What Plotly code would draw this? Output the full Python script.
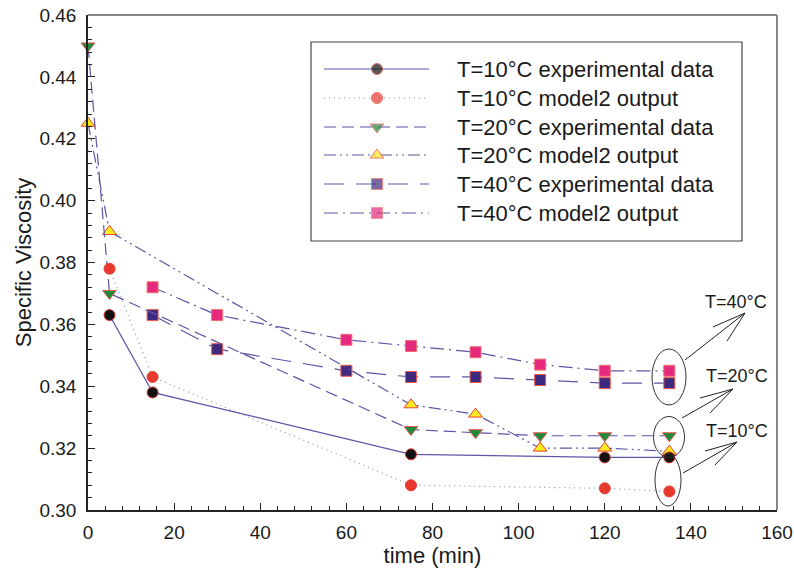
import plotly.graph_objects as go

# ---- data ----
t10_exp_x = [5, 15, 75, 120, 135]
t10_exp_y = [0.363, 0.338, 0.318, 0.317, 0.317]
t10_mod_x = [5, 15, 75, 120, 135]
t10_mod_y = [0.378, 0.343, 0.308, 0.307, 0.306]
t20_exp_x = [0, 5, 75, 90, 105, 120, 135]
t20_exp_y = [0.450, 0.370, 0.326, 0.325, 0.324, 0.324, 0.324]
t20_mod_x = [0, 5, 75, 90, 105, 120, 135]
t20_mod_y = [0.425, 0.390, 0.334, 0.331, 0.320, 0.320, 0.319]
t40_exp_x = [15, 30, 60, 75, 90, 105, 120, 135]
t40_exp_y = [0.363, 0.352, 0.345, 0.343, 0.343, 0.342, 0.341, 0.341]
t40_mod_x = [15, 30, 60, 75, 90, 105, 120, 135]
t40_mod_y = [0.372, 0.363, 0.355, 0.353, 0.351, 0.347, 0.345, 0.345]

legend_labels = ["T=10°C experimental data", "T=10°C model2 output",
                 "T=20°C experimental data", "T=20°C model2 output",
                 "T=40°C experimental data", "T=40°C model2 output"]
group_labels = ["T=40°C", "T=20°C", "T=10°C"]

FONT = "Liberation Sans, Arial, sans-serif"
LC = "#5f54a6"

styles = [
    dict(line=dict(color=LC, width=1.2, dash="solid"),
         marker=dict(symbol="circle", size=11, color="#111111", line=dict(color="#d8362c", width=1))),
    dict(line=dict(color="#7f9c9a", width=1.2, dash="1px,4px"),
         marker=dict(symbol="circle", size=11, color="#e8392f", line=dict(color="#e8392f", width=1))),
    dict(line=dict(color=LC, width=1.2, dash="12px,6px"),
         marker=dict(symbol="triangle-down", size=12, color="#1d8a3c", line=dict(color="#ec5a4e", width=1))),
    dict(line=dict(color=LC, width=1.2, dash="12px,4px,2px,4px,2px,4px"),
         marker=dict(symbol="triangle-up", size=12, color="#ffec1f", line=dict(color="#e8402f", width=1))),
    dict(line=dict(color=LC, width=1.2, dash="20px,12px"),
         marker=dict(symbol="square", size=11, color="#3d2a7e", line=dict(color="#ec5a4e", width=1))),
    dict(line=dict(color=LC, width=1.2, dash="14px,5px,2px,5px"),
         marker=dict(symbol="square", size=11, color="#e5297d", line=dict(color="#f07070", width=1))),
]

series = [(t10_exp_x, t10_exp_y), (t10_mod_x, t10_mod_y), (t20_exp_x, t20_exp_y),
          (t20_mod_x, t20_mod_y), (t40_exp_x, t40_exp_y), (t40_mod_x, t40_mod_y)]

fig = go.Figure()
draw_order = [5, 4, 3, 2, 1, 0]
for i in draw_order:
    xs, ys = series[i]
    fig.add_trace(go.Scatter(x=xs, y=ys, mode="lines+markers", name=legend_labels[i],
                             line=styles[i]["line"], marker=styles[i]["marker"],
                             showlegend=False, cliponaxis=False))

# ---- manual legend (pixel-like overlay axes) ----
row_y = [69, 98, 127, 155, 184, 213]
for i in range(6):
    m = dict(styles[i]["marker"])
    m["size"] = [0, m["size"], 0]
    fig.add_trace(go.Scatter(x=[324, 377, 429], y=[row_y[i]] * 3, mode="lines+markers",
                             line=styles[i]["line"], marker=m, xaxis="x2", yaxis="y2",
                             showlegend=False, hoverinfo="skip"))

shapes = []
annotations = []
# legend box
shapes.append(dict(type="rect", xref="x2", yref="y2", x0=311, x1=742, y0=42, y1=241,
                   line=dict(color="#444444", width=1.2), fillcolor="white", layer="below"))
for i in range(6):
    annotations.append(dict(xref="x2", yref="y2", x=455, y=row_y[i], text=legend_labels[i],
                            showarrow=False, xanchor="left", yanchor="middle",
                            font=dict(family=FONT, size=22, color="#1a1a1a")))

# ellipses around end points
for cx, cy, w, h in [(669, 377, 17, 28), (669, 437, 15.5, 20.5), (668, 480, 13, 26)]:
    shapes.append(dict(type="circle", xref="x2", yref="y2", x0=cx - w, x1=cx + w,
                       y0=cy - h, y1=cy + h, line=dict(color="#333333", width=1)))

# arrows (tail, tip, barb1, barb2)
arrows = [((685, 360), (745, 313), (713, 327), (727, 341)),
          ((682, 418), (733, 389), (700, 398), (710, 413)),
          ((683, 473), (737, 442), (705, 451), (715, 465))]
for tail, tip, b1, b2 in arrows:
    for a in (tail, b1, b2):
        shapes.append(dict(type="line", xref="x2", yref="y2", x0=a[0], y0=a[1],
                           x1=tip[0], y1=tip[1], line=dict(color="#222222", width=1)))

for (lx, ly), txt in zip([(736, 302), (737, 376), (737, 431)], group_labels):
    annotations.append(dict(xref="x2", yref="y2", x=lx, y=ly, text=txt, showarrow=False,
                            xanchor="center", yanchor="middle",
                            font=dict(family=FONT, size=18, color="#1a1a1a")))

# gray frame top/right
shapes.append(dict(type="line", xref="paper", yref="paper", x0=0, x1=1, y0=1, y1=1,
                   line=dict(color="#888888", width=2)))
shapes.append(dict(type="line", xref="paper", yref="paper", x0=1, x1=1, y0=0, y1=1,
                   line=dict(color="#888888", width=2)))

fig.update_layout(
    width=794, height=574, autosize=False,
    margin=dict(l=88, r=17, t=15, b=64, autoexpand=False),
    paper_bgcolor="white", plot_bgcolor="white",
    font=dict(family=FONT, color="#1a1a1a"),
    xaxis=dict(range=[0, 160], dtick=20, tick0=0, ticks="inside", ticklen=7, tickcolor="#222222",
               showline=True, linecolor="#222222", linewidth=1.5, showgrid=False, zeroline=False,
               tickfont=dict(size=19, family=FONT), ticklabelstandoff=4, automargin=False,
               minor=dict(dtick=4, ticks="inside", ticklen=4, tickcolor="#222222"),
               title=dict(text="time (min)", font=dict(size=22, family=FONT), standoff=2)),
    yaxis=dict(range=[0.30, 0.46], dtick=0.02, tick0=0.30, tickformat=".2f", ticks="inside",
               ticklen=7, tickcolor="#222222", showline=True, linecolor="#222222", linewidth=1.5,
               showgrid=False, zeroline=False, tickfont=dict(size=19, family=FONT),
               ticklabelstandoff=6, automargin=False,
               minor=dict(dtick=0.004, ticks="inside", ticklen=4, tickcolor="#222222"),
               title=dict(text="Specific Viscosity", font=dict(size=22, family=FONT), standoff=2)),
    xaxis2=dict(overlaying="x", range=[88, 777], visible=False, fixedrange=True),
    yaxis2=dict(overlaying="y", range=[510, 15], visible=False, fixedrange=True),
    shapes=shapes, annotations=annotations,
)

fig.write_html("out.html", config={"displayModeBar": False},
               post_script="document.body.style.margin='0';document.documentElement.style.overflow='hidden';document.body.style.overflow='hidden';")
